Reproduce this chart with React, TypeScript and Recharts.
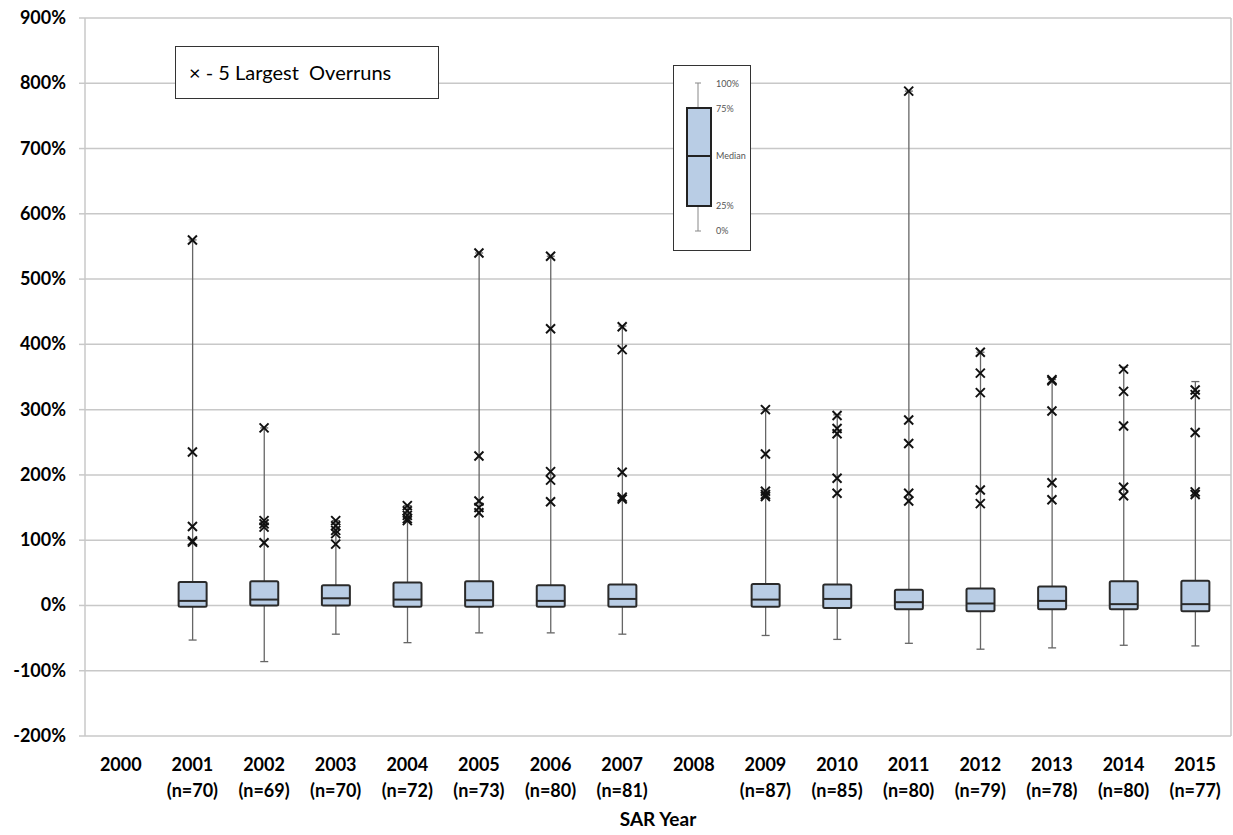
import React from 'react';
import { ComposedChart, Bar, Line, XAxis, YAxis, CartesianGrid } from 'recharts';

const years = ['2000', '2001', '2002', '2003', '2004', '2005', '2006', '2007', '2008', '2009', '2010', '2011', '2012', '2013', '2014', '2015'];
const sampleSizes = [null, 70, 69, 70, 72, 73, 80, 81, null, 87, 85, 80, 79, 78, 80, 77];

// growth (%) per SAR year: whisker ends, quartiles, median
const minGrowth = [null, -53, -86, -44, -57, -42, -42, -44, null, -46, -52, -58, -67, -65, -61, -62];
const q1Growth = [null, -2, 0, 0, -2, -2, -2, -2, null, -2, -4, -6, -9, -6, -6, -9];
const medianGrowth = [null, 7, 9, 11, 9, 8, 7, 10, null, 9, 10, 5, 3, 7, 2, 2];
const q3Growth = [null, 36, 37, 31, 35, 37, 31, 32, null, 33, 32, 24, 26, 29, 37, 38];
const maxGrowth = [null, 560, 272, 130, 153, 540, 535, 428, null, 300, 292, 788, 388, 346, 365, 343];

// 5 largest overruns per year
const largestOverruns = [
  null,
  [560, 235, 121, 99, 97],
  [272, 130, 125, 120, 96],
  [130, 122, 115, 110, 94],
  [153, 145, 138, 133, 130],
  [540, 229, 160, 150, 142],
  [535, 424, 205, 192, 159],
  [427, 392, 204, 166, 163],
  null,
  [300, 232, 175, 170, 167],
  [291, 271, 263, 195, 172],
  [788, 284, 248, 172, 160],
  [388, 356, 326, 177, 156],
  [346, 344, 298, 188, 162],
  [362, 328, 275, 181, 168],
  [330, 323, 265, 174, 170],
];

const yTicks = [-200, -100, 0, 100, 200, 300, 400, 500, 600, 700, 800, 900];

const FONT = 'Lato, "Open Sans", sans-serif';

const rows = years.map((year, i) => {
  const o = largestOverruns[i];
  return {
    year,
    n: sampleSizes[i],
    range: minGrowth[i] == null ? null : [minGrowth[i], maxGrowth[i]],
    min: minGrowth[i],
    q1: q1Growth[i],
    median: medianGrowth[i],
    q3: q3Growth[i],
    max: maxGrowth[i],
    o0: o ? o[0] : null,
    o1: o ? o[1] : null,
    o2: o ? o[2] : null,
    o3: o ? o[3] : null,
    o4: o ? o[4] : null,
  };
});

const BoxWhisker = (props: any) => {
  const { x, y, width, height, payload } = props;
  if (!payload || payload.min == null || height == null) return <g />;
  const top = Math.min(y, y + height);
  const h = Math.abs(height);
  const span = payload.max - payload.min;
  const py = (v: number) => top + (h * (payload.max - v)) / span;
  const cx = x + width / 2;
  return (
    <g>
      <line x1={cx} x2={cx} y1={py(payload.max)} y2={py(payload.min)} stroke="#666" strokeWidth={1.3} />
      <line x1={cx - 4} x2={cx + 4} y1={py(payload.max)} y2={py(payload.max)} stroke="#666" strokeWidth={1.3} />
      <line x1={cx - 4} x2={cx + 4} y1={py(payload.min)} y2={py(payload.min)} stroke="#666" strokeWidth={1.3} />
      <rect
        x={x}
        y={py(payload.q3)}
        width={width}
        height={py(payload.q1) - py(payload.q3)}
        fill="#b9cde5"
        stroke="#2a2a2a"
        strokeWidth={2}
        rx={1.5}
      />
      <line x1={x} x2={x + width} y1={py(payload.median)} y2={py(payload.median)} stroke="#2a2a2a" strokeWidth={2} />
    </g>
  );
};

const Cross = (p: any) => {
  const { cx, cy, index } = p;
  if (cy == null || isNaN(cy) || p.value == null) return <g key={index} />;
  const s = 4.5;
  return (
    <g key={index} stroke="#111" strokeWidth={2}>
      <line x1={cx - s} y1={cy - s} x2={cx + s} y2={cy + s} />
      <line x1={cx - s} y1={cy + s} x2={cx + s} y2={cy - s} />
    </g>
  );
};

const YearTick = (props: any) => {
  const { x, y, payload, index } = props;
  const n = sampleSizes[index];
  return (
    <text x={x} y={y} textAnchor="middle" fontFamily={FONT} fontWeight={700} fontSize={18} fill="#000">
      <tspan x={x} dy={27}>{payload.value}</tspan>
      <tspan x={x} dy={26}>{n == null ? '' : `(n=${n})`}</tspan>
    </text>
  );
};

const PctTick = (props: any) => {
  const { x, y, payload } = props;
  return (
    <text x={x} y={y} dy={6} textAnchor="end" fontFamily={FONT} fontWeight={700} fontSize={18} fill="#000">
      {`${payload.value}%`}
    </text>
  );
};

export default function App() {
  return (
    <div style={{ position: 'relative', width: 1233, height: 835, background: '#fff' }}>
      <style>{'body{margin:0}'}</style>
      <ComposedChart width={1233} height={835} data={rows} margin={{ top: 18, right: 0, bottom: 0, left: 0 }}>
        <CartesianGrid vertical={false} stroke="#c8c8c8" strokeWidth={1.5} />
        <XAxis
          dataKey="year"
          height={99}
          axisLine={false}
          tickLine={false}
          interval={0}
          tick={<YearTick />}
          label={{ value: 'SAR Year', position: 'insideBottom', offset: 9, fontFamily: FONT, fontWeight: 700, fontSize: 19, fill: '#000' }}
        />
        <YAxis
          width={85}
          domain={[-200, 900]}
          ticks={yTicks}
          interval={0}
          axisLine={{ stroke: '#c8c8c8', strokeWidth: 1.5 }}
          tickLine={{ stroke: '#c8c8c8', strokeWidth: 1.5 }}
          tickSize={6}
          tickMargin={13}
          tick={<PctTick />}
        />
        <YAxis
          yAxisId="border"
          orientation="right"
          width={2}
          tick={false}
          tickLine={false}
          axisLine={{ stroke: '#c8c8c8', strokeWidth: 1.5 }}
        />
        <Bar dataKey="range" barSize={28} shape={<BoxWhisker />} isAnimationActive={false} />
        {['o0', 'o1', 'o2', 'o3', 'o4'].map((k) => (
          <Line
            key={k}
            dataKey={k}
            stroke="none"
            dot={(p: any) => <Cross {...p} key={`${k}-${p.index}`} />}
            activeDot={false}
            isAnimationActive={false}
          />
        ))}
      </ComposedChart>

      <div
        style={{
          position: 'absolute', left: 175, top: 46, width: 249, height: 51,
          border: '1.5px solid #333', background: '#fff',
          fontFamily: FONT, fontSize: 20, lineHeight: '51px', paddingLeft: 13, boxSizing: 'content-box',
        }}
      >
        × - 5 Largest&nbsp; Overruns
      </div>

      <div style={{ position: 'absolute', left: 673, top: 65, width: 76, height: 184, border: '1.5px solid #333', background: '#fff' }}>
        <svg width={76} height={184} style={{ display: 'block' }}>
          <line x1={24} x2={24} y1={17} y2={165} stroke="#888" strokeWidth={1} />
          <line x1={21} x2={27} y1={17} y2={17} stroke="#888" strokeWidth={1} />
          <line x1={21} x2={27} y1={165} y2={165} stroke="#888" strokeWidth={1} />
          <rect x={13} y={42} width={24} height={98} fill="#b9cde5" stroke="#222" strokeWidth={2} />
          <line x1={13} x2={37} y1={90} y2={90} stroke="#222" strokeWidth={2} />
          <g fontFamily={FONT} fontSize={9} fill="#555">
            <text x={42} y={21}>100%</text>
            <text x={42} y={46}>75%</text>
            <text x={42} y={93}>Median</text>
            <text x={42} y={143}>25%</text>
            <text x={42} y={168}>0%</text>
          </g>
        </svg>
      </div>
    </div>
  );
}
